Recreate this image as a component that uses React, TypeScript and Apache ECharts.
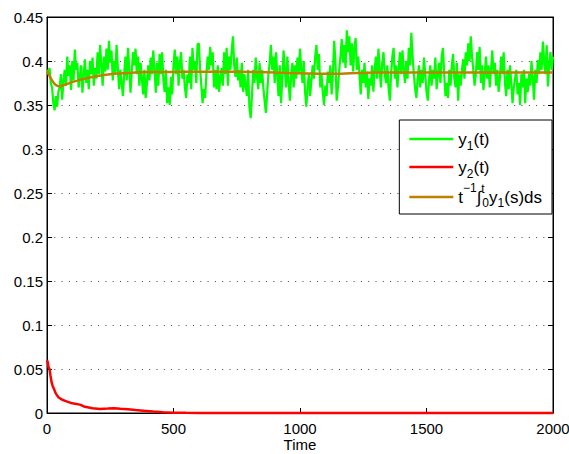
import { useEffect, useRef } from "react";
import * as echarts from "echarts";

// ---------- data ----------
const y1TimeStep = 5;
const y1Values = [
  0.39, 0.385, 0.392, 0.375, 0.37, 0.352, 0.344, 0.36, 0.348, 0.365,
  0.37, 0.385, 0.356, 0.378, 0.39, 0.372, 0.405, 0.383, 0.395, 0.367,
  0.4, 0.378, 0.413, 0.39, 0.398, 0.37, 0.382, 0.395, 0.364, 0.385,
  0.402, 0.375, 0.39, 0.368, 0.4, 0.385, 0.404, 0.372, 0.392, 0.38,
  0.41, 0.385, 0.418, 0.395, 0.372, 0.405, 0.388, 0.414, 0.39, 0.423,
  0.398, 0.412, 0.378, 0.4, 0.385, 0.418, 0.392, 0.368, 0.39, 0.375,
  0.36, 0.385, 0.405, 0.378, 0.415, 0.392, 0.364, 0.388, 0.41, 0.395,
  0.414, 0.385, 0.405, 0.372, 0.398, 0.38, 0.362, 0.39, 0.358, 0.375,
  0.395, 0.378, 0.404, 0.385, 0.412, 0.39, 0.364, 0.398, 0.372, 0.408,
  0.385, 0.41, 0.378, 0.365, 0.39, 0.352, 0.37, 0.35, 0.382, 0.362,
  0.395, 0.413, 0.385, 0.405, 0.372, 0.398, 0.41, 0.38, 0.39, 0.37,
  0.358, 0.385, 0.375, 0.405, 0.368, 0.415, 0.39, 0.4, 0.375, 0.419,
  0.42, 0.392, 0.372, 0.352, 0.368, 0.358, 0.385, 0.405, 0.39, 0.416,
  0.395, 0.41, 0.37, 0.39, 0.368, 0.395, 0.365, 0.38, 0.392, 0.372,
  0.41, 0.385, 0.415, 0.372, 0.405, 0.39, 0.412, 0.428, 0.395, 0.382,
  0.404, 0.378, 0.39, 0.37, 0.398, 0.365, 0.385, 0.372, 0.36, 0.39,
  0.348, 0.335, 0.36, 0.39, 0.375, 0.404, 0.382, 0.368, 0.398, 0.375,
  0.39, 0.37, 0.355, 0.341, 0.362, 0.385, 0.398, 0.418, 0.39, 0.405,
  0.375, 0.41, 0.385, 0.36, 0.395, 0.352, 0.38, 0.412, 0.39, 0.37,
  0.405, 0.375, 0.355, 0.385, 0.398, 0.37, 0.395, 0.38, 0.404, 0.385,
  0.414, 0.39, 0.375, 0.4, 0.365, 0.348, 0.37, 0.385, 0.36, 0.378,
  0.395, 0.38, 0.405, 0.418, 0.39, 0.408, 0.37, 0.385, 0.365, 0.35,
  0.372, 0.36, 0.388, 0.375, 0.395, 0.362, 0.385, 0.423, 0.4, 0.355,
  0.37, 0.39, 0.405, 0.425, 0.398, 0.418, 0.392, 0.435, 0.41, 0.428,
  0.395, 0.42, 0.388, 0.415, 0.426, 0.39, 0.405, 0.385, 0.362, 0.39,
  0.375, 0.398, 0.37, 0.388, 0.357, 0.38, 0.372, 0.395, 0.365, 0.39,
  0.405, 0.38, 0.414, 0.39, 0.37, 0.398, 0.41, 0.385, 0.375, 0.395,
  0.37, 0.355, 0.385, 0.405, 0.415, 0.38, 0.395, 0.37, 0.39, 0.41,
  0.385, 0.412, 0.39, 0.375, 0.4, 0.38, 0.415, 0.395, 0.432, 0.405,
  0.385, 0.368, 0.358, 0.38, 0.395, 0.37, 0.39, 0.375, 0.404, 0.385,
  0.365, 0.355, 0.378, 0.395, 0.372, 0.39, 0.38, 0.404, 0.368, 0.385,
  0.398, 0.375, 0.405, 0.415, 0.385, 0.36, 0.375, 0.358, 0.39, 0.372,
  0.395, 0.408, 0.38, 0.37, 0.398, 0.355, 0.385, 0.372, 0.39, 0.402,
  0.38, 0.41, 0.395, 0.42, 0.4, 0.428, 0.405, 0.39, 0.372, 0.385,
  0.41, 0.39, 0.416, 0.375, 0.395, 0.367, 0.385, 0.405, 0.38, 0.395,
  0.37, 0.39, 0.412, 0.385, 0.398, 0.372, 0.39, 0.365, 0.38, 0.405,
  0.385, 0.41, 0.375, 0.36, 0.39, 0.368, 0.395, 0.375, 0.352, 0.37,
  0.38, 0.39, 0.362, 0.375, 0.35, 0.385, 0.37, 0.39, 0.352, 0.38,
  0.365, 0.385, 0.372, 0.4, 0.38, 0.356, 0.39, 0.375, 0.401, 0.385,
  0.41, 0.39, 0.422, 0.4, 0.385, 0.418, 0.371, 0.395, 0.41, 0.39, 0.405,
];

const y2Times = [0, 3, 6, 10, 14, 18, 22, 28, 35, 45, 60, 80, 100, 130, 150, 180, 210, 240, 265, 290, 320, 350, 380, 420, 460, 500, 550, 600, 700, 2000];
const y2Values = [0.06, 0.058, 0.052, 0.05, 0.042, 0.035, 0.031, 0.027, 0.022, 0.018, 0.015, 0.013, 0.011, 0.0095, 0.007, 0.0055, 0.0045, 0.005, 0.0055, 0.0048, 0.0042, 0.0033, 0.0026, 0.0016, 0.0009, 0.0004, 0.0002, 0.0001, 0, 0];

const avgTimes = [0, 10, 20, 30, 40, 50, 60, 80, 100, 150, 200, 250, 300, 350, 400, 500, 600, 700, 800, 900, 1000, 1050, 1100, 1150, 1200, 1250, 1300, 1400, 1600, 1800, 2000];
const avgValues = [0.389, 0.383, 0.378, 0.374, 0.372, 0.371, 0.372, 0.374, 0.376, 0.38, 0.383, 0.385, 0.386, 0.387, 0.3875, 0.3875, 0.3878, 0.3878, 0.3875, 0.387, 0.386, 0.3858, 0.3855, 0.3855, 0.386, 0.3865, 0.387, 0.387, 0.387, 0.387, 0.387];

const xMin = 0;
const xMax = 2000;
const xInterval = 500;
const yMin = 0;
const yMax = 0.45;
const yInterval = 0.05;

const seriesNames = ["y1", "y2", "avg"];
const legendLabels: Record<string, string> = {
  y1: "{m|y}{s|1}{m|(t)}",
  y2: "{m|y}{s|2}{m|(t)}",
  avg: "{M|t}{P|\u22121}{M|\u222B}{T|t}{S|0}{M|y}{S|1}{M|(s)ds}",
};

export default function App() {
  const ref = useRef<HTMLDivElement>(null);

  useEffect(() => {
    const chart = echarts.init(ref.current!, null, { renderer: "svg" });
    const font = "'Liberation Sans', Arial, Helvetica, sans-serif";
    const black = "#000";

    const y1Data = y1Values.map((v, i) => [i * y1TimeStep, v]);
    const y2Data = y2Times.map((t, i) => [t, y2Values[i]]);
    const avgData = avgTimes.map((t, i) => [t, avgValues[i]]);

    const tick = { show: true, inside: true, length: 5, lineStyle: { color: black, width: 1 } };
    const line = { show: true, onZero: false, lineStyle: { color: black, width: 1 } };
    const sideAxis = {
      axisLabel: { show: false },
      axisTick: tick,
      axisLine: line,
      splitLine: { show: false },
    };

    chart.setOption({
      animation: false,
      backgroundColor: "#fff",
      grid: {
        left: 47,
        top: 17,
        width: 506,
        height: 396,
        containLabel: false,
        outerBoundsMode: "none",
        show: true,
        borderColor: black,
        borderWidth: 1,
        backgroundColor: "transparent",
      },
      textStyle: { fontFamily: font },
      xAxis: [
        {
          type: "value",
          position: "bottom",
          min: xMin,
          max: xMax,
          interval: xInterval,
          name: "Time",
          nameLocation: "middle",
          nameGap: 24,
          nameMoveOverlap: false,
          nameTextStyle: { fontFamily: font, fontSize: 15, color: black },
          axisLabel: {
            fontFamily: font,
            fontSize: 15,
            color: black,
            margin: 8,
            formatter: (v: number) => String(v),
          },
          axisTick: tick,
          axisLine: line,
          splitLine: { show: false },
        },
        { type: "value", position: "top", min: xMin, max: xMax, interval: xInterval, ...sideAxis },
      ],
      yAxis: [
        {
          type: "value",
          position: "left",
          min: yMin,
          max: yMax,
          interval: yInterval,
          axisLabel: {
            fontFamily: font,
            fontSize: 15,
            color: black,
            margin: 4,
            formatter: (v: number) => String(+v.toFixed(2)),
          },
          axisTick: tick,
          axisLine: line,
          splitLine: { show: true, lineStyle: { color: "#444", width: 1, type: [1, 6.3] } },
        },
        { type: "value", position: "right", min: yMin, max: yMax, interval: yInterval, ...sideAxis },
      ],
      legend: {
        show: true,
        orient: "vertical",
        right: 17,
        top: 120,
        data: seriesNames,
        icon: "rect",
        itemWidth: 44,
        itemHeight: 2.5,
        itemGap: 2,
        padding: [6, 10, 2, 10],
        backgroundColor: "#fff",
        borderColor: black,
        borderWidth: 1,
        borderRadius: 0,
        selectedMode: false,
        formatter: (name: string) => legendLabels[name] ?? name,
        textStyle: {
          fontFamily: font,
          fontSize: 17,
          color: black,
          rich: {
            m: { fontFamily: font, fontSize: 17, color: black, lineHeight: 26 },
            s: { fontFamily: font, fontSize: 12, color: black, lineHeight: 26, padding: [14, 0, 0, 0] },
            M: { fontFamily: font, fontSize: 17, color: black, lineHeight: 36 },
            S: { fontFamily: font, fontSize: 12, color: black, lineHeight: 36, padding: [12, 0, 0, 0] },
            P: { fontFamily: font, fontSize: 12, color: black, lineHeight: 36, padding: [0, 0, 18, 0] },
            T: { fontFamily: font, fontSize: 12, color: black, lineHeight: 36, padding: [0, 0, 16, 0], width: 1 },
          },
        },
      },
      series: [
        {
          name: "y1",
          type: "line",
          xAxisIndex: 0,
          yAxisIndex: 0,
          data: y1Data,
          symbol: "none",
          showSymbol: false,
          silent: true,
          lineStyle: { color: "#00ff00", width: 2.2 },
          itemStyle: { color: "#00ff00" },
        },
        {
          name: "y2",
          type: "line",
          xAxisIndex: 0,
          yAxisIndex: 0,
          data: y2Data,
          symbol: "none",
          showSymbol: false,
          silent: true,
          clip: false,
          lineStyle: { color: "#ff0000", width: 2.5 },
          itemStyle: { color: "#ff0000" },
        },
        {
          name: "avg",
          type: "line",
          xAxisIndex: 0,
          yAxisIndex: 0,
          data: avgData,
          symbol: "none",
          showSymbol: false,
          silent: true,
          smooth: true,
          lineStyle: { color: "#bf8000", width: 2.5 },
          itemStyle: { color: "#bf8000" },
        },
      ],
    });

    return () => chart.dispose();
  }, []);

  return (
    <div
      ref={ref}
      style={{ position: "fixed", left: 0, top: 0, width: 569, height: 454, background: "#fff" }}
    />
  );
}
